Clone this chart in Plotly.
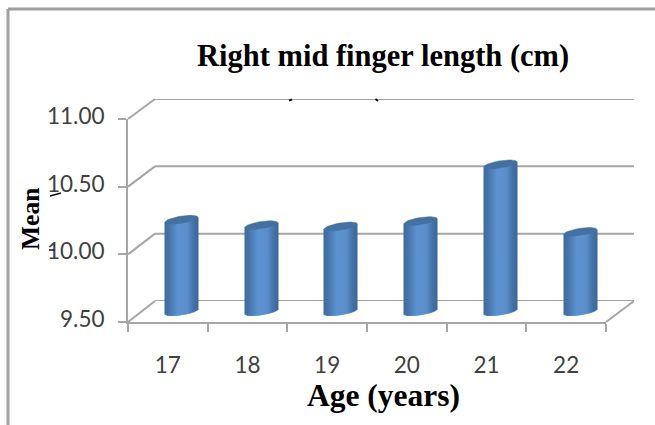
import numpy as np
import plotly.graph_objects as go

# --- Data ---
ages = ["17", "18", "19", "20", "21", "22"]
means = [10.18, 10.14, 10.13, 10.17, 10.59, 10.09]
y_ticks = [9.5, 10.0, 10.5, 11.0]
y_tick_labels = ["9.50", "10.00", "10.50", "11.00"]

W, H = 655, 425
GREY = "#A6A6A6"
SERIF = "Liberation Serif"

# pixel boxes of the fake 3D walls: front plane, back wall, and the plane the cylinders stand on
# the cylinder plane runs a little below 9.5, bars get cut off at the end of the axis range
FRONT = dict(left=128, right=606, top=119, bottom=322)
BACK = dict(left=155, right=634, top=99, bottom=301)
MID = dict(left=141.5, right=620, top=109, bottom=325)
MID_LOW = 9.4

def dom_x(box):
    return [box["left"] / W, box["right"] / W]

def dom_y(box):
    return [1 - box["bottom"] / H, 1 - box["top"] / H]

def px(x, y):
    return x / W, 1 - y / H

# --- Cylinder geometry, in axis units ---
pos = np.arange(len(means))
vals = np.array(means)
unit_x = 6 / (MID["right"] - MID["left"])
unit_y = (11 - MID_LOW) / (MID["bottom"] - MID["top"])
half_w = 16.5 * unit_x
slant = 2.5 * unit_y
squash = 3.6 * unit_y

def strip_color(u):
    # dark edges, lighter middle
    stops = [-1, -0.75, -0.2, 0.35, 0.75, 1]
    r = np.interp(u, stops, [64, 70, 92, 92, 70, 60])
    g = np.interp(u, stops, [108, 115, 146, 144, 115, 104])
    b = np.interp(u, stops, [156, 168, 208, 204, 168, 152])
    return f"rgb({r:.0f},{g:.0f},{b:.0f})"

fig = go.Figure()

# front plane axes carry the ticks and labels
fig.add_trace(go.Scatter(x=ages, y=means, mode="markers", marker=dict(opacity=0),
                         hoverinfo="skip", xaxis="x", yaxis="y"))

# back wall gridlines, as a trace so the ones at the range ends are kept
grid_x, grid_y = [], []
for v in y_ticks:
    grid_x += [-0.5, 5.5, None]
    grid_y += [v, v, None]
fig.add_trace(go.Scatter(x=grid_x, y=grid_y, mode="lines", line=dict(color=GREY, width=2),
                         cliponaxis=False, hoverinfo="skip", xaxis="x2", yaxis="y2"))

# cylinder bodies: thin vertical bars side by side
n_strips = 33
edges = np.linspace(-1, 1, n_strips + 1)
for u in (edges[:-1] + edges[1:]) / 2:
    curve = np.sqrt(1 - u ** 2)
    base = 9.5 + slant * u - squash * curve
    top = vals + slant * u
    fig.add_trace(go.Bar(
        x=pos + u * half_w,
        y=top - base,
        base=[base] * len(vals),
        width=half_w * 2 / n_strips * 1.25,
        marker=dict(color=strip_color(u), line=dict(width=0)),
        cliponaxis=False,
        hoverinfo="skip",
        xaxis="x3",
        yaxis="y3",
    ))

# cylinder tops
t = np.linspace(0, 2 * np.pi, 50)
cap_x, cap_y = [], []
for p, v in zip(pos, vals):
    cap_x += list(p + half_w * np.cos(t)) + [None]
    cap_y += list(v + slant * np.cos(t) + squash * np.sin(t)) + [None]
fig.add_trace(go.Scatter(x=cap_x, y=cap_y, mode="lines", fill="toself", fillcolor="#44719F",
                         line=dict(width=0.5, color="#44719F"), hoverinfo="skip",
                         xaxis="x3", yaxis="y3"))

# --- Shapes: frame, depth lines, scan specks ---
def paper_line(x0, y0, x1, y1, color=GREY, width=2):
    a, b = px(x0, y0)
    c, d = px(x1, y1)
    return dict(type="line", xref="paper", yref="paper", x0=a, y0=b, x1=c, y1=d,
                line=dict(color=color, width=width), layer="below")

def front_y(v, box):
    return box["bottom"] - (v - 9.5) / 1.5 * (box["bottom"] - box["top"])

shapes = [paper_line(8, 9, W, 9, "#A0A0A0", 3), paper_line(8, 9, 8, H, "#A0A0A0", 3)]
for v in y_ticks:
    shapes.append(paper_line(FRONT["left"], front_y(v, FRONT), BACK["left"], front_y(v, BACK)))
shapes.append(paper_line(FRONT["right"], FRONT["bottom"], BACK["right"], BACK["bottom"]))
specks = []
for x0, y0, x1, y1, w in [(289, 100.5, 292, 99.5, 2), (375.5, 99, 378, 101, 2),
                          (50, 196, 61, 193, 1.5), (49, 250, 54, 250, 1.5)]:
    s = paper_line(x0, y0, x1, y1, "#111111", w)
    s["layer"] = "above"
    specks.append(s)
shapes += specks

tick_font = dict(family="Lato", size=22.5, color="#404040")

fig.update_layout(
    width=W,
    height=H,
    margin=dict(l=0, r=0, t=0, b=0),
    paper_bgcolor="white",
    plot_bgcolor="rgba(0,0,0,0)",
    showlegend=False,
    barmode="overlay",
    shapes=shapes,
    xaxis=dict(
        domain=dom_x(FRONT), type="category", categoryorder="array", categoryarray=ages,
        range=[-0.5, 5.5], tickson="boundaries", ticks="outside", ticklen=8, tickwidth=2,
        tickcolor=GREY, linecolor=GREY, linewidth=2, showline=True, showgrid=False,
        tickfont=tick_font, ticklabelstandoff=22, zeroline=False, automargin=False,
    ),
    yaxis=dict(
        domain=dom_y(FRONT), range=[9.5, 11], tickvals=y_ticks, ticktext=y_tick_labels,
        ticks="outside", ticklen=8, tickwidth=2, tickcolor=GREY, linecolor=GREY, linewidth=2,
        showline=True, showgrid=False, tickfont=tick_font, ticklabelstandoff=9, ticklabelshift=-3,
        zeroline=False, automargin=False,
    ),
    xaxis2=dict(domain=dom_x(BACK), range=[-0.5, 5.5], visible=False, anchor="y2", automargin=False),
    yaxis2=dict(domain=dom_y(BACK), range=[9.5, 11], visible=False, anchor="x2", automargin=False),
    xaxis3=dict(domain=dom_x(MID), range=[-0.5, 5.5], visible=False, anchor="y3", automargin=False),
    yaxis3=dict(domain=dom_y(MID), range=[MID_LOW, 11], visible=False, anchor="x3", automargin=False),
    annotations=[
        dict(text="<b>Right mid finger length (cm)</b>", xref="paper", yref="paper",
             x=382.5 / W, y=1 - 56 / H, showarrow=False, xanchor="center", yanchor="middle",
             font=dict(family=SERIF, size=30.5, color="black")),
        dict(text="<b>Age (years)</b>", xref="paper", yref="paper",
             x=383.5 / W, y=1 - 395 / H, showarrow=False, xanchor="center", yanchor="middle",
             font=dict(family=SERIF, size=31.5, color="black")),
        dict(text="<b>Mean</b>", xref="paper", yref="paper", textangle=-90,
             x=30 / W, y=1 - 219 / H, showarrow=False, xanchor="center", yanchor="middle",
             font=dict(family=SERIF, size=25.5, color="black")),
    ],
)

fig.write_html("out.html", config=dict(displayModeBar=False),
               post_script="document.body.style.margin='0';")
